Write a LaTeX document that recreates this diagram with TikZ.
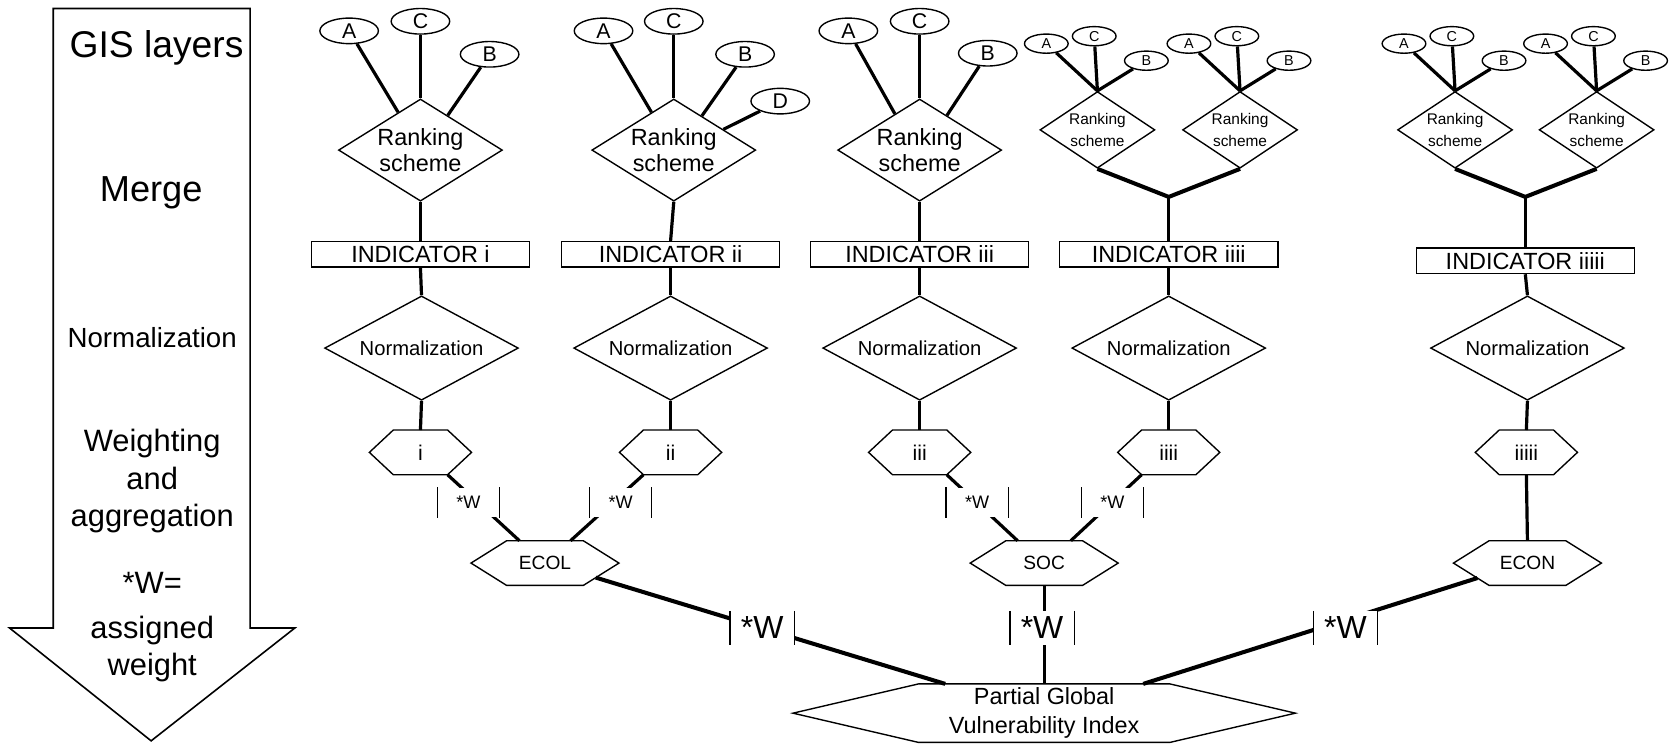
\documentclass[tikz,border=0pt]{standalone}
\usepackage{fontspec}
\setmainfont{Liberation Sans}
\usetikzlibrary{shapes.geometric,calc}

\newcommand\fsz[2]{\fontsize{#1}{#2}\selectfont}
% pointed left/right ends of a hexagon whose core is a rectangle node
\newcommand\hexline[2]{\draw[outline] (#1.north west) -- (#1.north east) -- ([xshift=#2]#1.east) -- (#1.south east) -- (#1.south west) -- ([xshift=-#2]#1.west) -- cycle;}
% vertical bars beside a weight label
\newcommand\wbars[1]{\draw[bar] (#1.north west) -- (#1.south west) (#1.north east) -- (#1.south east);}

\begin{document}
\begin{tikzpicture}[x=1pt,y=-1pt,
  outline/.style={draw, line width=1.3pt},
  conn/.style={line width=3pt},
  heavy/.style={line width=3.8pt},
  bar/.style={line width=1.3pt},
  arrowline/.style={line width=1.5pt},
  side/.style={inner sep=0pt},
  leaf/.style={ellipse, outline, inner sep=0pt, minimum width=55pt, minimum height=24pt, font=\fsz{20pt}{24pt}},
  sleaf/.style={ellipse, outline, inner sep=0pt, minimum width=41pt, minimum height=18pt, font=\fsz{13.5pt}{16pt}},
  rank/.style={diamond, outline, inner sep=-12pt, aspect=1.6, minimum width=154pt, minimum height=96pt, align=center, font=\fsz{22pt}{25pt}},
  srank/.style={diamond, outline, inner sep=-8pt, aspect=1.5, minimum width=108pt, minimum height=72pt, align=center, font=\fsz{14.5pt}{20pt}},
  ind/.style={rectangle, outline, inner sep=0pt, minimum width=205pt, minimum height=24pt, font=\fsz{22pt}{24pt}},
  norm/.style={diamond, outline, inner sep=-6pt, aspect=1.86, minimum width=182pt, minimum height=98pt, font=\fsz{19pt}{22pt}},
  hexs/.style={rectangle, inner sep=0pt, outer sep=0pt, minimum width=51pt, minimum height=42pt, font=\fsz{20pt}{22pt}},
  hexc/.style={rectangle, inner sep=0pt, outer sep=0pt, minimum width=72pt, minimum height=42pt, font=\fsz{18pt}{20pt}},
  hexg/.style={rectangle, inner sep=0pt, outer sep=0pt, minimum width=236pt, minimum height=55pt, align=center, font=\fsz{22pt}{27pt}},
  wsmall/.style={fill=white, inner sep=0pt, minimum width=58pt, minimum height=28pt, font=\fsz{17pt}{20pt}},
  wbig/.style={fill=white, inner sep=0pt, minimum width=60pt, minimum height=32pt, font=\fsz{30pt}{32pt}},
  junction/.style={coordinate}
]
\useasboundingbox (0,0) rectangle (1568,701);

% ---------- process arrow with the stage names ----------
\draw[arrowline] (50,8) -- (235,8) -- (235,590) -- (277,590) -- (142,696) -- (9,590) -- (50,590) -- cycle;
\node[side, font=\fsz{35pt}{40pt}] (tgis) at (147,45) {GIS layers};
\node[side, font=\fsz{34pt}{40pt}] (tmerge) at (142,181) {Merge};
\node[side, font=\fsz{26pt}{30pt}] (tnorm) at (143,317) {Normalization};
\node[side, font=\fsz{29pt}{35pt}, align=center] (tweight) at (143,452) {Weighting\\and\\aggregation};
\node[side, font=\fsz{29pt}{35pt}] (tw) at (143,548) {*W=};
\node[side, font=\fsz{29pt}{35pt}, align=center] (tassigned) at (143,610) {assigned\\weight};

% ---------- indicator i ----------
\node[leaf] (a1) at (328,29) {A};
\node[leaf] (c1) at (395,20) {C};
\node[leaf] (b1) at (460,51) {B};
\node[rank] (r1) at (395,141) {Ranking\\scheme};
\node[ind] (ind1) at (395,239) {INDICATOR i};
\node[norm] (n1) at (396,327) {Normalization};
\node[hexs] (h1) at (395,425) {i};

% ---------- indicator ii ----------
\node[leaf] (a2) at (567,29) {A};
\node[leaf] (c2) at (633,20) {C};
\node[leaf] (b2) at (700,51) {B};
\node[leaf] (d2) at (733,95) {D};
\node[rank] (r2) at (633,141) {Ranking\\scheme};
\node[ind] (ind2) at (630,239) {INDICATOR ii};
\node[norm] (n2) at (630,327) {Normalization};
\node[hexs] (h2) at (630,425) {ii};

% ---------- indicator iii ----------
\node[leaf] (a3) at (797,29) {A};
\node[leaf] (c3) at (864,20) {C};
\node[leaf] (b3) at (928,50) {B};
\node[rank] (r3) at (864,141) {Ranking\\scheme};
\node[ind] (ind3) at (864,239) {INDICATOR iii};
\node[norm] (n3) at (864,327) {Normalization};
\node[hexs] (h3) at (864,425) {iii};

% ---------- indicator iiii (two merged schemes) ----------
\node[sleaf] (a4a) at (983,41) {A};
\node[sleaf] (c4a) at (1028,34) {C};
\node[sleaf] (b4a) at (1077,57) {B};
\node[srank] (s4a) at (1031,122) {Ranking\\scheme};
\node[sleaf] (a4b) at (1117,41) {A};
\node[sleaf] (c4b) at (1162,34) {C};
\node[sleaf] (b4b) at (1211,57) {B};
\node[srank] (s4b) at (1165,122) {Ranking\\scheme};
\coordinate (j4) at (1098,185);
\node[ind] (ind4) at (1098,239) {INDICATOR iiii};
\node[norm] (n4) at (1098,327) {Normalization};
\node[hexs] (h4) at (1098,425) {iiii};

% ---------- indicator iiiii (two merged schemes) ----------
\node[sleaf] (a5a) at (1319,41) {A};
\node[sleaf] (c5a) at (1364,34) {C};
\node[sleaf] (b5a) at (1413,57) {B};
\node[srank] (s5a) at (1367,122) {Ranking\\scheme};
\node[sleaf] (a5b) at (1452,41) {A};
\node[sleaf] (c5b) at (1497,34) {C};
\node[sleaf] (b5b) at (1546,57) {B};
\node[srank] (s5b) at (1500,122) {Ranking\\scheme};
\coordinate (j5) at (1433,185);
\node[ind] (ind5) at (1433,245) {INDICATOR iiiii};
\node[norm] (n5) at (1435,327) {Normalization};
\node[hexs] (h5) at (1434,425) {iiiii};

% ---------- sub-indices and final index ----------
\node[hexc] (ecol) at (512,529) {ECOL};
\node[hexc] (soc) at (981,529) {SOC};
\node[hexc] (econ) at (1435,529) {ECON};
\node[hexg] (pgvi) at (981,670) {Partial Global\\Vulnerability Index};

\foreach \h in {h1,h2,h3,h4,h5} {\hexline{\h}{22.5pt}}
\foreach \h in {ecol,soc,econ} {\hexline{\h}{33.5pt}}
\hexline{pgvi}{118pt}

% ---------- connectors: layers to ranking schemes ----------
\draw[conn] (a1) -- ($(r1.north)!0.27!(r1.west)$);
\draw[conn] (c1) -- (r1.north);
\draw[conn] (b1) -- ($(r1.north)!0.33!(r1.east)$);
\draw[conn] (a2) -- ($(r2.north)!0.27!(r2.west)$);
\draw[conn] (c2) -- (r2.north);
\draw[conn] (b2) -- ($(r2.north)!0.34!(r2.east)$);
\draw[conn] (d2) -- ($(r2.north)!0.6!(r2.east)$);
\draw[conn] (a3) -- ($(r3.north)!0.3!(r3.west)$);
\draw[conn] (c3) -- (r3.north);
\draw[conn] (b3) -- ($(r3.north)!0.33!(r3.east)$);
\foreach \s in {4a,4b,5a,5b} {
  \draw[conn] (a\s) -- (s\s.north);
  \draw[conn] (c\s) -- (s\s.north);
  \draw[conn] (b\s) -- (s\s.north);
}

% ---------- merge of paired schemes ----------
\draw[heavy] (s4a.south) -- (j4) -- (s4b.south);
\draw[conn] (j4) -- (ind4.north);
\draw[heavy] (s5a.south) -- (j5) -- (s5b.south);
\draw[conn] (j5) -- (ind5.north);

% ---------- ranking to indicator to normalization ----------
\draw[conn] (r1.south) -- (ind1.north);
\draw[conn] (r2.south) -- (ind2.north);
\draw[conn] (r3.south) -- (ind3.north);
\foreach \i in {1,2,3,4,5} {
  \draw[conn] (ind\i.south) -- (n\i.north);
  \draw[conn] (n\i.south) -- (h\i.north);
}

% ---------- weighting and aggregation ----------
\draw[conn] (h1.south east) -- ([xshift=12pt]ecol.north west);
\draw[conn] (h2.south west) -- ([xshift=-12pt]ecol.north east);
\draw[conn] (h3.south east) -- ([xshift=11pt]soc.north west);
\draw[conn] (h4.south west) -- ([xshift=-11pt]soc.north east);
\draw[conn] (h5.south) -- (econ.north);
\draw[heavy] ($(ecol.south east)!0.35!([xshift=33.5pt]ecol.east)$) -- ([xshift=25pt]pgvi.north west);
\draw[conn] (soc.south) -- (pgvi.north);
\draw[heavy] ($(econ.south west)!0.33!([xshift=-33.5pt]econ.west)$) -- ([xshift=-25pt]pgvi.north east);

% ---------- weight labels ----------
\node[wsmall] (w1) at (440,472) {*W};
\node[wsmall] (w2) at (583,472) {*W};
\node[wsmall] (w3) at (918,472) {*W};
\node[wsmall] (w4) at (1045,472) {*W};
\node[wbig] (wecol) at (716,590) {*W};
\node[wbig] (wsoc) at (979,590) {*W};
\node[wbig] (wecon) at (1264,590) {*W};
\foreach \w in {w1,w2,w3,w4,wecol,wsoc,wecon} {\wbars{\w}}
\end{tikzpicture}
\end{document}
